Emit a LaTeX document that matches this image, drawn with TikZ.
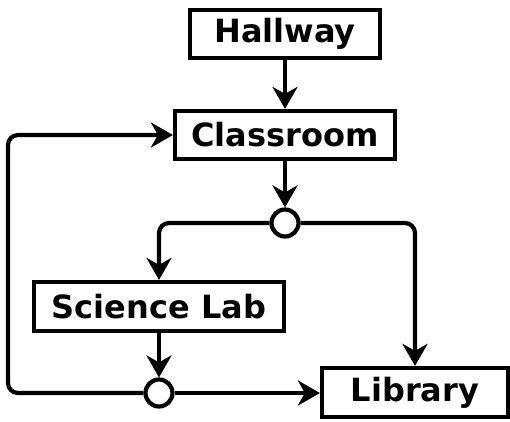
\documentclass[tikz,border=0pt]{standalone}
\usepackage{fontspec}
\setmainfont{DejaVu Sans}
\usetikzlibrary{arrows.meta}
\begin{document}
\begin{tikzpicture}[x=1pt,y=-1pt,
 box/.style={draw,line width=4.2pt,inner sep=0pt,font=\fontsize{32}{38}\selectfont\bfseries},
 junction/.style={draw,circle,line width=4.2pt,minimum size=27pt,inner sep=0pt,fill=white},
 flow/.style={line width=4.2pt,-{Stealth[length=22pt,width=25pt,inset=7pt]},rounded corners=10pt}]
\useasboundingbox (0,0) rectangle (510,421);
\node[box,minimum width=190pt,minimum height=48pt] (hall) at (285,34) {Hallway};
\node[box,minimum width=220pt,minimum height=48pt] (class) at (285,135) {Classroom};
\node[junction] (j1) at (285,223) {};
\node[box,minimum width=250pt,minimum height=49pt] (sci) at (159,306.5) {Science Lab};
\node[junction] (j2) at (159,393) {};
\node[box,minimum width=186pt,minimum height=49pt] (lib) at (415,392.5) {Library};
\coordinate (cb) at (8,393);
\coordinate (ct) at (8,135);
\draw[flow] (hall) -- (class);
\draw[flow] (class) -- (j1);
\draw[flow] (j1.west) -| (sci.north);
\draw[flow] (j1.east) -| (lib.north);
\draw[flow] (sci) -- (j2);
\draw[flow] (j2.east) -- (j2.east -| lib.west);
\draw[flow] (j2.west) -- (cb) -- (ct) -- (class.west);
\end{tikzpicture}
\end{document}
